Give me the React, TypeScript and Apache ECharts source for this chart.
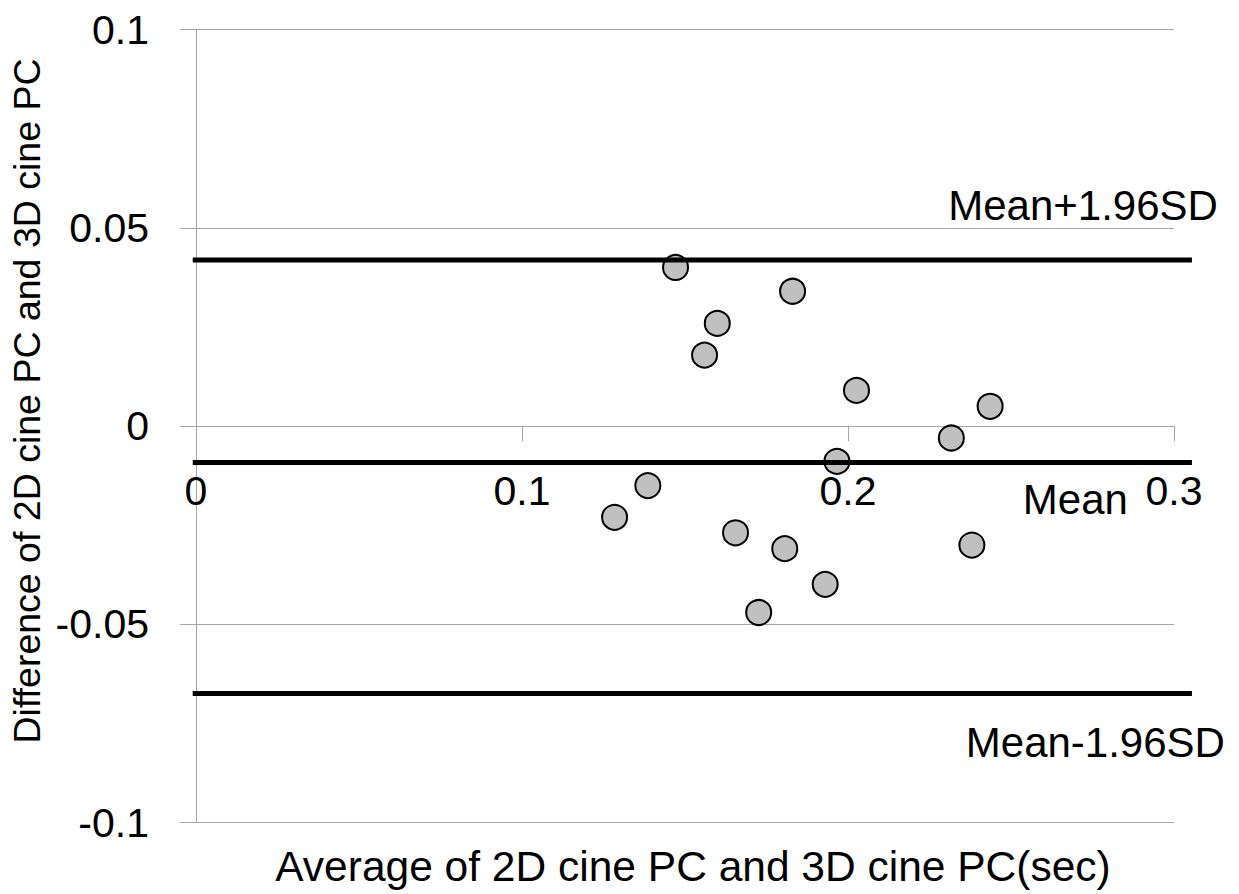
import React, { useEffect, useRef } from "react";
import * as echarts from "echarts";

const xAvg = [0.1471, 0.183, 0.1599, 0.156, 0.2026, 0.2436, 0.2317, 0.1966, 0.1386, 0.1284, 0.1655, 0.1806, 0.238, 0.193, 0.1726];
const yDiff = [0.04, 0.034, 0.0259, 0.0179, 0.009, 0.005, -0.003, -0.0089, -0.015, -0.023, -0.0269, -0.0309, -0.03, -0.0399, -0.047];
const limitNames = ["Mean+1.96SD", "Mean", "Mean-1.96SD"];
const limitValues = [0.0419, -0.0092, -0.0674];
const lineExtent = [-0.001, 0.3055];
const xTitle = "Average of 2D cine PC and 3D cine PC(sec)";
const yTitle = "Difference of 2D cine PC and 3D cine PC";

const FONT = "'Liberation Sans', Arial, sans-serif";
const labelOffsets = [
  [26, -54],
  [-64, 37],
  [33, 49],
];

const GRID_TOP = 29.5;
const GRID_BOTTOM = 71.3;
const H = 894;

export default function App() {
  const ref = useRef<HTMLDivElement>(null);
  useEffect(() => {
    if (!ref.current) return;
    const chart = echarts.init(ref.current, undefined, { renderer: "svg" });
    const gray = "#a6a6a6";
    const gridH = H - GRID_TOP - GRID_BOTTOM;
    const option: any = {
      animation: false,
      backgroundColor: "#fff",
      textStyle: { fontFamily: FONT, color: "#000" },
      grid: {
        left: 196,
        right: 65,
        top: GRID_TOP,
        bottom: GRID_BOTTOM,
        containLabel: false,
        outerBoundsMode: "none",
      },
      xAxis: {
        type: "value",
        min: 0,
        max: 0.3,
        interval: 0.1,
        position: "bottom",
        offset: -gridH / 2,
        axisLine: { show: true, onZero: false, lineStyle: { color: gray, width: 1 } },
        axisTick: { show: true, length: 15, lineStyle: { color: gray, width: 1 } },
        splitLine: { show: false },
        axisLabel: { fontSize: 41, color: "#000", margin: 44, fontFamily: FONT },
      },
      yAxis: {
        type: "value",
        min: -0.1,
        max: 0.1,
        interval: 0.05,
        axisLine: { show: true, onZero: false, lineStyle: { color: gray, width: 1 } },
        axisTick: { show: true, length: 16, lineStyle: { color: gray, width: 1 } },
        splitLine: { show: true, lineStyle: { color: gray, width: 1 } },
        axisLabel: { fontSize: 41, color: "#000", margin: 47, fontFamily: FONT },
      },
      series: [
        {
          type: "scatter",
          data: xAvg.map((x, i) => [x, yDiff[i]]),
          symbol: "circle",
          symbolSize: 25,
          itemStyle: { color: "#c0c0c0", borderColor: "#000", borderWidth: 2, opacity: 1 },
          z: 2,
        },
      ],
    };
    chart.setOption(option);
    const elems: any[] = [];
    limitValues.forEach((v, i) => {
      const p0 = chart.convertToPixel({ gridIndex: 0 }, [lineExtent[0], v]) as number[];
      const p1 = chart.convertToPixel({ gridIndex: 0 }, [lineExtent[1], v]) as number[];
      elems.push({
        type: "line",
        shape: { x1: p0[0], y1: p0[1], x2: p1[0], y2: p1[1] },
        style: { stroke: "#000", lineWidth: 5 },
        z: 10,
      });
      elems.push({
        type: "text",
        x: p1[0] + labelOffsets[i][0],
        y: p1[1] + labelOffsets[i][1],
        style: {
          text: limitNames[i],
          fontSize: 42,
          fontFamily: FONT,
          fill: "#000",
          textAlign: "right",
          textVerticalAlign: "middle",
        },
        z: 10,
      });
    });
    elems.push({
      type: "text",
      x: 693,
      y: 866,
      style: {
        text: xTitle,
        fontSize: 42.5,
        fontFamily: FONT,
        fill: "#000",
        textAlign: "center",
        textVerticalAlign: "middle",
      },
    });
    elems.push({
      type: "text",
      x: 27,
      y: 401,
      rotation: Math.PI / 2,
      style: {
        text: yTitle,
        fontSize: 37.5,
        fontFamily: FONT,
        fill: "#000",
        textAlign: "center",
        textVerticalAlign: "middle",
      },
    });
    chart.setOption({ graphic: elems });
    return () => chart.dispose();
  }, []);
  return <div ref={ref} style={{ width: 1239, height: H, position: "absolute", left: 0, top: 0 }} />;
}
